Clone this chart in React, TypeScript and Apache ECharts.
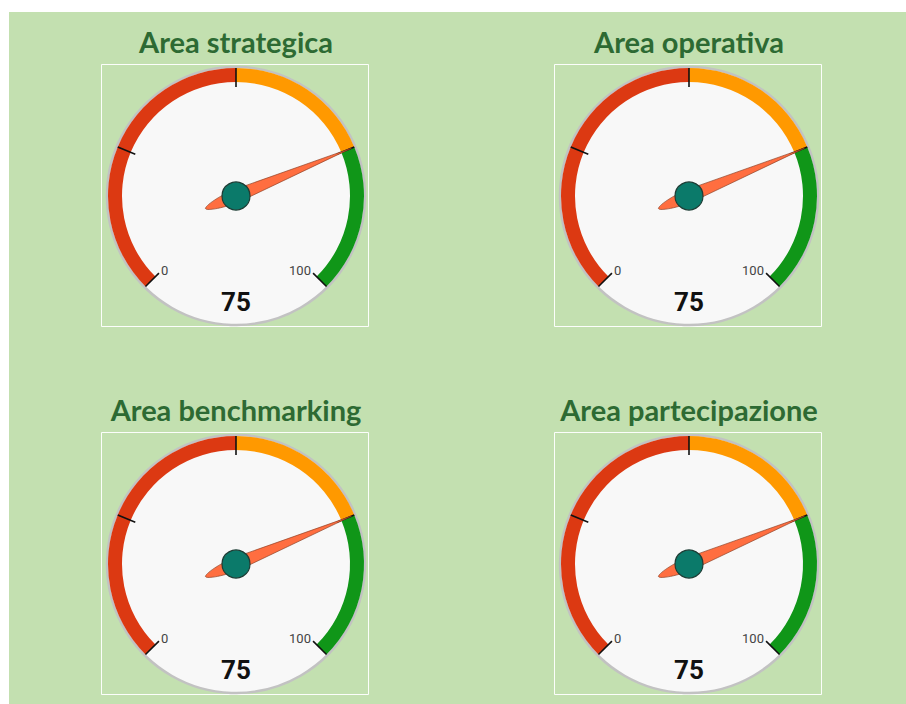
import React, { useEffect, useRef } from "react";
import * as echarts from "echarts";

// ---- data ----
const gaugeTitles = ["Area strategica", "Area operativa", "Area benchmarking", "Area partecipazione"];
const gaugeValues = [75, 75, 75, 75];
const scaleMin = 0;
const scaleMax = 100;
const shownTickLabels = [0, 100];
const bandStops = [0.5, 0.75, 1];
const bandColors = ["#dc3912", "#ff9900", "#109618"];

// layout (pixel centres of each dial)
const centers: [number, number][] = [
  [236, 196],
  [689, 196],
  [236, 564],
  [689, 564],
];

const NEEDLE = "path://M5,0 L10,122 C10.4,140 7,158 5,158 C3,158 -0.4,140 0,122 Z";

export default function App() {
  const ref = useRef<HTMLDivElement>(null);
  useEffect(() => {
    if (!ref.current) return;
    const chart = echarts.init(ref.current, null, { renderer: "svg" });

    const R = 128;
    const graphic: any[] = [
      {
        type: "rect",
        z: -10,
        shape: { x: 9, y: 12, width: 897, height: 692 },
        style: { fill: "#c3e0b0" },
      },
    ];
    centers.forEach(([cx, cy]) => {
      graphic.push({
        type: "rect",
        z: -9,
        shape: { x: cx - 134.5, y: cy - 131.5, width: 267, height: 262 },
        style: { fill: "none", stroke: "rgba(255,255,255,0.95)", lineWidth: 1 },
      });
      graphic.push({
        type: "circle",
        z: -8,
        shape: { cx, cy, r: 129 },
        style: { fill: "#f8f8f8", stroke: "#c2c2c2", lineWidth: 2.5 },
      });
    });

    const series = gaugeTitles.map((name, i) => ({
      type: "gauge",
      center: centers[i],
      radius: R,
      startAngle: 225,
      endAngle: -45,
      min: scaleMin,
      max: scaleMax,
      splitNumber: 4,
      axisLine: {
        lineStyle: {
          width: 14,
          color: bandStops.map((s, k) => [s, bandColors[k]]),
        },
      },
      axisTick: { show: false },
      splitLine: {
        show: true,
        length: 19,
        distance: -14,
        lineStyle: { color: "#111", width: 1.6 },
      },
      axisLabel: {
        distance: 17,
        color: "#444",
        fontSize: 13,
        fontFamily: "Roboto",
        formatter: (v: number) => (shownTickLabels.includes(v) ? String(v) : ""),
      },
      pointer: {
        show: true,
        icon: NEEDLE,
        length: 158,
        width: 13,
        offsetCenter: [0, 33],
        keepAspect: false,
        itemStyle: { color: "#ff6e40", borderColor: "#8a3d22", borderWidth: 0.6 },
      },
      anchor: {
        show: true,
        showAbove: true,
        size: 28,
        itemStyle: { color: "#0b7a6a", borderColor: "#1d3d35", borderWidth: 1.2 },
      },
      title: {
        show: true,
        offsetCenter: [0, -155],
        color: "#2d6a33",
        fontSize: 29,
        fontWeight: "bold",
        fontFamily: "Lato",
      },
      detail: {
        show: true,
        offsetCenter: [0, 106],
        color: "#111",
        fontSize: 26,
        fontWeight: "bold",
        fontFamily: "Roboto",
        formatter: "{value}",
      },
      data: [{ value: gaugeValues[i], name }],
    }));

    chart.setOption({
      animation: false,
      backgroundColor: "#ffffff",
      graphic,
      series,
    });
    return () => chart.dispose();
  }, []);
  return (
    <div
      ref={ref}
      style={{ position: "fixed", left: 0, top: 0, width: 906, height: 704 }}
    />
  );
}
